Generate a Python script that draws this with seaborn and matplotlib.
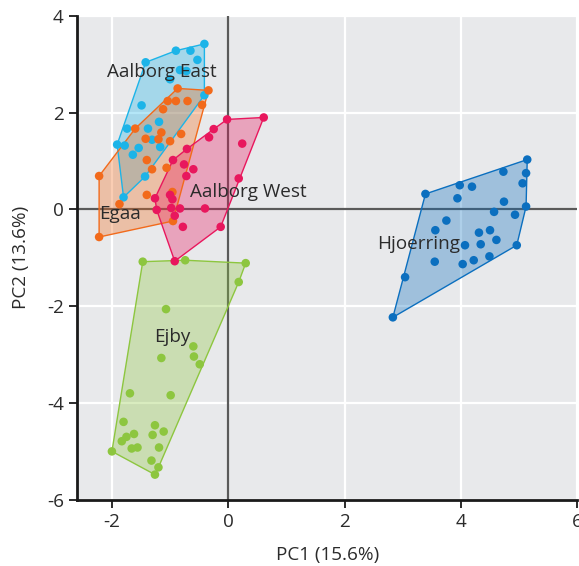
import numpy as np
import pandas as pd
import matplotlib
matplotlib.use("Agg")
import matplotlib.pyplot as plt
import seaborn as sns

# PCA scores per sampling site
aalborg_east_pc1 = [-0.41, -0.65, -0.90, -1.42, -0.53, -0.83, -0.72, -1.00, -0.41, -1.49,
                    -1.19, -1.74, -1.38, -1.31, -1.91, -1.78, -1.54, -1.17, -1.64, -1.43, -1.80]
aalborg_east_pc2 = [3.42, 3.28, 3.28, 3.04, 3.09, 2.88, 2.86, 2.69, 2.36, 2.15,
                    1.81, 1.67, 1.67, 1.44, 1.34, 1.32, 1.27, 1.29, 1.13, 0.68, 0.25]

egaa_pc1 = [-0.87, -0.34, -1.04, -0.90, -0.70, -1.12, -0.45, -1.60, -1.15, -1.42, -1.20,
            -1.00, -0.81, -1.40, -1.31, -1.06, -2.22, -1.40, -0.96, -1.87, -2.22, -0.95]
egaa_pc2 = [2.50, 2.46, 2.24, 2.24, 2.24, 2.07, 2.16, 1.67, 1.59, 1.46, 1.45,
            1.41, 1.56, 1.02, 0.83, 0.86, 0.69, 0.30, 0.36, 0.11, -0.57, -0.24]

aalborg_west_pc1 = [0.61, -0.02, -0.25, -0.33, 0.24, -0.71, -0.95, -0.76, -0.60, -0.72, 0.18,
                    -1.26, -1.00, -0.96, -1.23, -0.98, -0.83, -0.40, -0.92, -0.78, -0.13, -0.92]
aalborg_west_pc2 = [1.90, 1.86, 1.66, 1.49, 1.36, 1.25, 1.02, 0.93, 0.83, 0.69, 0.64,
                    0.23, 0.30, 0.21, -0.01, 0.03, 0.02, 0.02, -0.13, -0.36, -0.36, -1.07]

ejby_pc1 = [-1.47, -0.74, 0.30, 0.18, -1.07, -0.60, -1.15, -0.59, -0.49, -1.69, -0.99, -1.80, -1.26,
            -1.62, -1.30, -1.11, -1.75, -1.83, -1.66, -1.56, -1.19, -2.00, -1.32, -1.20, -1.26]
ejby_pc2 = [-1.08, -1.05, -1.11, -1.50, -2.06, -2.83, -3.07, -3.04, -3.20, -3.80, -3.84, -4.39, -4.46,
            -4.64, -4.66, -4.59, -4.70, -4.79, -4.94, -4.92, -4.92, -5.00, -5.19, -5.33, -5.48]

hjoerring_pc1 = [5.14, 4.73, 5.12, 5.06, 3.39, 3.98, 4.19, 3.94, 4.74, 5.12, 4.57, 4.93, 3.75,
                 3.56, 4.31, 4.50, 4.61, 4.07, 4.34, 4.96, 3.55, 4.03, 4.22, 4.49, 3.04, 2.83]
hjoerring_pc2 = [1.03, 0.78, 0.75, 0.54, 0.32, 0.50, 0.47, 0.23, 0.16, 0.06, -0.05, -0.11, -0.23,
                 -0.43, -0.48, -0.43, -0.63, -0.74, -0.72, -0.74, -1.08, -1.13, -1.05, -0.97, -1.40, -2.23]

sites = ["Aalborg East", "Egaa", "Aalborg West", "Ejby", "Hjoerring"]
site_colors = ["#1CB4E8", "#F26A1B", "#E8175D", "#8DC63F", "#0B6FBF"]
label_pos = {"Aalborg East": (-1.14, 2.84), "Egaa": (-1.86, -0.09),
             "Aalborg West": (0.34, 0.36), "Ejby": (-0.96, -2.64),
             "Hjoerring": (3.28, -0.71)}

pc1 = [aalborg_east_pc1, egaa_pc1, aalborg_west_pc1, ejby_pc1, hjoerring_pc1]
pc2 = [aalborg_east_pc2, egaa_pc2, aalborg_west_pc2, ejby_pc2, hjoerring_pc2]

df = pd.concat([pd.DataFrame({"PC1": x, "PC2": y, "site": s})
                for s, x, y in zip(sites, pc1, pc2)], ignore_index=True)


def convex_hull(points):
    pts = sorted(set(points))
    def cross(o, a, b):
        return (a[0] - o[0]) * (b[1] - o[1]) - (a[1] - o[1]) * (b[0] - o[0])
    lower, upper = [], []
    for p in pts:
        while len(lower) >= 2 and cross(lower[-2], lower[-1], p) <= 0:
            lower.pop()
        lower.append(p)
    for p in reversed(pts):
        while len(upper) >= 2 and cross(upper[-2], upper[-1], p) <= 0:
            upper.pop()
        upper.append(p)
    return np.array(lower[:-1] + upper[:-1])


sns.set_theme(style="darkgrid", rc={
    "axes.facecolor": "#E8E9EB",
    "grid.color": "white",
    "grid.linewidth": 1.6,
    "axes.edgecolor": "#1a1a1a",
})
plt.rcParams["font.family"] = ["Open Sans", "DejaVu Sans"]
plt.rcParams["axes.unicode_minus"] = False

text_color = "#2b2b2b"
fs = 13.6

fig = plt.figure(figsize=(5.79, 5.66), dpi=100)
ax = fig.add_axes([0.133, 0.117, 0.864, 0.855])

ax.axhline(0, color="#5a5a5a", lw=1.6, zorder=0.8)
ax.axvline(0, color="#5a5a5a", lw=1.6, zorder=0.8)

palette = dict(zip(sites, site_colors))
for s in sites:
    sub = df[df["site"] == s]
    hull = convex_hull(list(zip(sub["PC1"], sub["PC2"])))
    ax.fill(hull[:, 0], hull[:, 1], facecolor=palette[s], alpha=0.33,
            edgecolor="none", zorder=1)
    ax.fill(hull[:, 0], hull[:, 1], facecolor="none", edgecolor=palette[s],
            lw=1.0, zorder=1.1)

sns.scatterplot(data=df, x="PC1", y="PC2", hue="site", palette=palette,
                s=38, edgecolor="none", legend=False, ax=ax, zorder=3)

for s, (lx, ly) in label_pos.items():
    ax.text(lx, ly, s, fontsize=fs, color=text_color, ha="center", va="center", zorder=4)

ax.set_xlim(-2.6, 6)
ax.set_ylim(-6, 4)
ax.set_xticks([-2, 0, 2, 4, 6])
ax.set_yticks([-6, -4, -2, 0, 2, 4])
ax.set_xlabel("PC1 (15.6%)", fontsize=fs, color=text_color, labelpad=11)
ax.set_ylabel("PC2 (13.6%)", fontsize=fs, color=text_color, labelpad=12)
ax.tick_params(axis="both", which="major", labelsize=fs, labelcolor=text_color,
               direction="out", length=6, width=1.3, color="#1a1a1a", bottom=True, left=True)
for side in ["top", "right"]:
    ax.spines[side].set_visible(False)
for side in ["left", "bottom"]:
    ax.spines[side].set_visible(True)
    ax.spines[side].set_linewidth(2)
ax.grid(True, zorder=0)
ax.set_axisbelow(True)

fig.savefig("out.png", dpi=100)
